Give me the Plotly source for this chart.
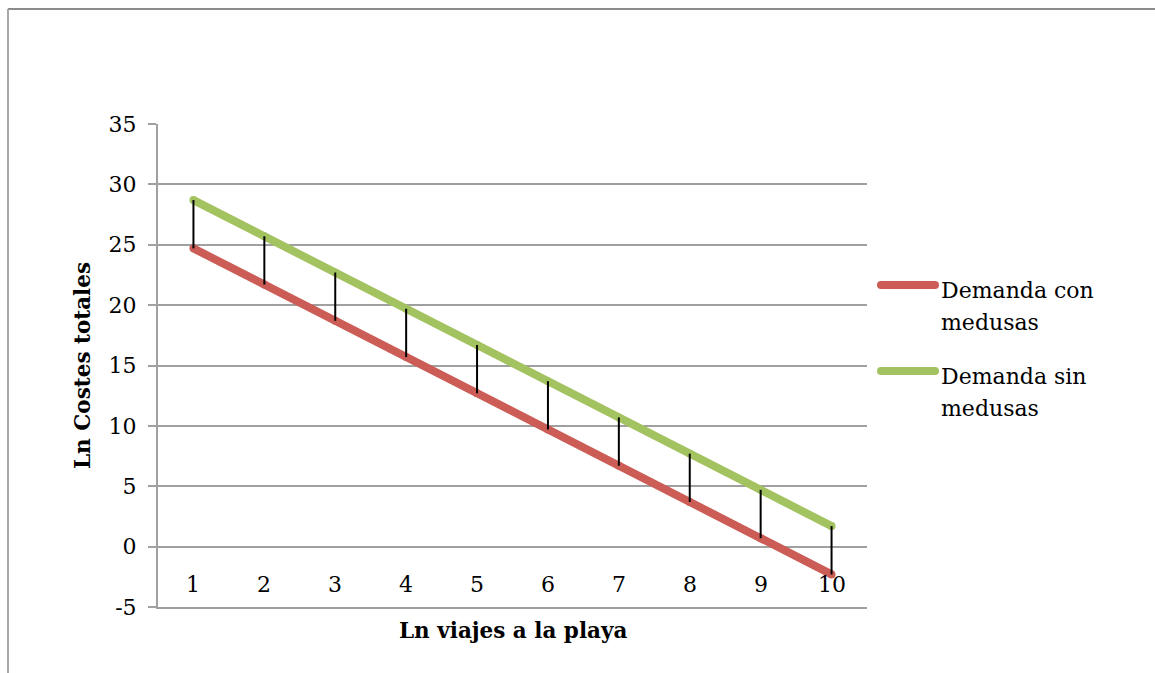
import plotly.graph_objects as go

# Ln of beach trips (category axis) and Ln of total costs for each demand curve
categories = [1, 2, 3, 4, 5, 6, 7, 8, 9, 10]
con_medusas = [24.7, 21.7, 18.7, 15.7, 12.7, 9.7, 6.7, 3.7, 0.7, -2.3]
sin_medusas = [28.7, 25.7, 22.7, 19.7, 16.7, 13.7, 10.7, 7.7, 4.7, 1.7]
series_labels = [["Demanda con", "medusas"], ["Demanda sin", "medusas"]]
y_ticks = [-5, 0, 5, 10, 15, 20, 25, 30, 35]
y_tick_text = ["-5", "0", "5", "10", "15", "20", "25", "30", "35"]

RED = "#CB5D56"
GREEN = "#A3C260"
GRID = "#A0A0A0"
FONT = "DejaVu Serif"
FS = 22

W, H = 1155, 673
L, R, T, B = 158, 288, 124, 66
PW, PH = W - L - R, H - T - B


def px(x):
    return (x - L) / PW


def py(y):
    return 1 - (y - T) / PH


fig = go.Figure()

for vals, color in ((con_medusas, RED), (sin_medusas, GREEN)):
    fig.add_trace(go.Scatter(
        x=categories, y=vals, mode="lines+markers",
        line=dict(color=color, width=8),
        marker=dict(color=color, size=8, line=dict(width=0)),
        showlegend=False, hoverinfo="skip",
    ))

# high-low connectors between the two demand curves
hx, hy = [], []
for c, lo, hi in zip(categories, con_medusas, sin_medusas):
    hx += [c, c, None]
    hy += [lo, hi, None]
fig.add_trace(go.Scatter(x=hx, y=hy, mode="lines",
                         line=dict(color="black", width=2),
                         showlegend=False, hoverinfo="skip"))

annotations = []
# category labels
for c in categories:
    annotations.append(dict(x=c, y=-3.15, xref="x", yref="y", text=str(c),
                            showarrow=False, font=dict(family=FONT, size=FS, color="black"),
                            xanchor="center", yanchor="middle"))
# axis titles
annotations.append(dict(x=px((L + L + PW) / 2), y=py(630), xref="paper", yref="paper",
                        text="<b>Ln viajes a la playa</b>", showarrow=False,
                        font=dict(family=FONT, size=21.5, color="black"),
                        xanchor="center", yanchor="middle"))
annotations.append(dict(x=px(82), y=py(366), xref="paper", yref="paper",
                        text="<b>Ln Costes totales</b>", showarrow=False, textangle=-90,
                        font=dict(family=FONT, size=21.5, color="black"),
                        xanchor="center", yanchor="middle"))

shapes = []
# legend
for (l1, l2), color, ly in zip(series_labels, (RED, GREEN), (285, 371)):
    shapes.append(dict(type="line", xref="paper", yref="paper",
                       x0=px(881), x1=px(935), y0=py(ly), y1=py(ly),
                       line=dict(color=color, width=8)))
    for pt in (881, 935):
        shapes.append(dict(type="circle", xref="paper", yref="paper",
                           x0=px(pt - 4), x1=px(pt + 4), y0=py(ly - 4), y1=py(ly + 4),
                           fillcolor=color, line=dict(width=0)))
    for txt, dy in ((l1, 5), (l2, 37)):
        annotations.append(dict(x=px(939), y=py(ly + dy), xref="paper", yref="paper",
                                text=txt, showarrow=False,
                                font=dict(family=FONT, size=FS, color="black"),
                                xanchor="left", yanchor="middle"))

# chart frame
shapes.append(dict(type="line", xref="paper", yref="paper",
                   x0=px(8), x1=px(W + 5), y0=py(9), y1=py(9),
                   line=dict(color="#8C8C8C", width=2)))
shapes.append(dict(type="line", xref="paper", yref="paper",
                   x0=px(8), x1=px(8), y0=py(9), y1=py(H + 5),
                   line=dict(color="#A8A8A8", width=2)))

fig.update_layout(
    width=W, height=H,
    margin=dict(l=L, r=R, t=T, b=B),
    paper_bgcolor="white", plot_bgcolor="white",
    showlegend=False,
    annotations=annotations,
    shapes=shapes,
    xaxis=dict(range=[0.5, 10.5], showticklabels=False, showgrid=False,
               zeroline=False, showline=True, linecolor=GRID, linewidth=2,
               ticks=""),
    yaxis=dict(range=[-5, 35], tickvals=y_ticks, ticktext=y_tick_text,
               showgrid=True, gridcolor=GRID, gridwidth=1.5, zeroline=False,
               showline=True, linecolor=GRID, linewidth=2,
               ticks="outside", ticklen=8, tickcolor=GRID, tickwidth=2,
               ticklabelstandoff=7,
               tickfont=dict(family=FONT, size=FS, color="black")),
)

fig.write_html("out.html")
